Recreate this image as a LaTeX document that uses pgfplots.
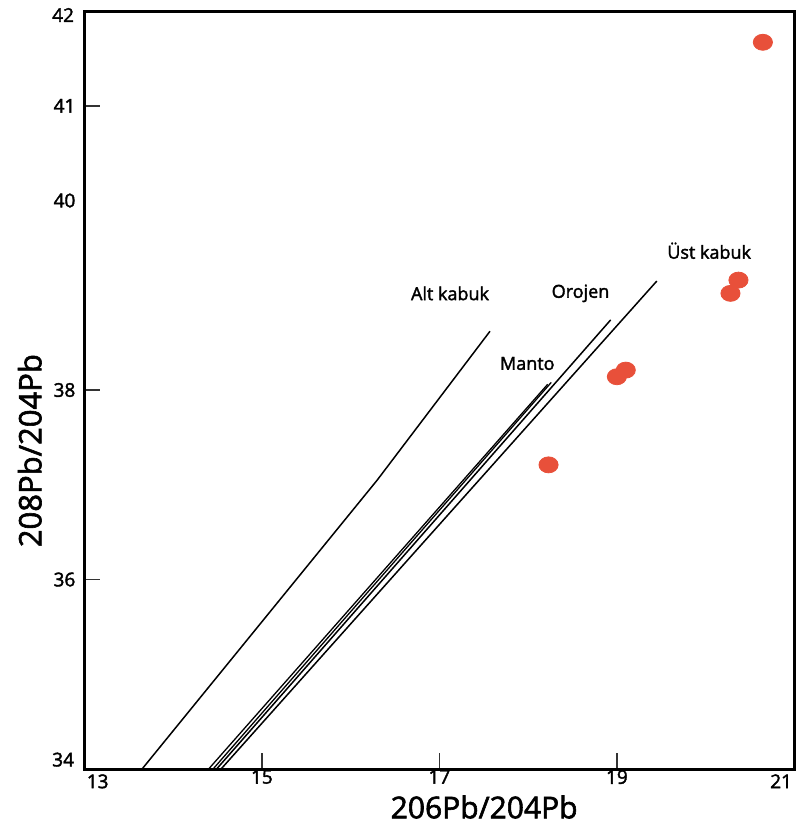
\documentclass[border=0pt]{standalone}
\usepackage{fontspec}
\setmainfont{Open Sans}[FakeBold=2]
\usepackage{pgfplots}
\pgfplotsset{compat=1.18}

\definecolor{ptred}{HTML}{E8503A}

\begin{document}
\begin{tikzpicture}
\begin{axis}[
    scale only axis,
    width=355pt, height=379pt,
    xmin=13, xmax=21, ymin=34, ymax=42,
    axis line style={line width=1.5pt},
    tick align=inside,
    major tick length=8pt,
    tick style={line width=0.8pt, black!80},
    xtick={15,17,19}, ytick={36,38,41},
    extra y ticks={40}, extra tick style={major tick length=0pt},
    xticklabel style={font=\fontsize{9.5}{10}\selectfont, yshift=3pt},
    yticklabel style={font=\fontsize{9.5}{10}\selectfont, xshift=-1pt},
    /pgf/number format/assume math mode=true,
    xtick pos=bottom, ytick pos=left,
    xlabel={206Pb/204Pb}, ylabel={208Pb/204Pb},
    xlabel style={font=\fontsize{15}{18}\selectfont,
        at={(axis description cs:0.563,0)}, anchor=center, yshift=-19pt},
    ylabel style={font=\fontsize{15.5}{18}\selectfont,
        at={(axis description cs:-0.077,0.42)}, anchor=center},
    clip=false,
]
% Alt kabuk
\addplot[black, line width=0.75pt] coordinates {(13.65,34) (16.30,37.05) (17.57,38.62)};
% Manto (double line)
\addplot[black, line width=0.65pt] coordinates {(14.40,34) (18.22,38.06)};
\addplot[black, line width=0.65pt] coordinates {(14.45,34) (18.26,38.08)};
% Orojen
\addplot[black, line width=0.75pt] coordinates {(14.49,34) (18.93,38.74)};
% Ust kabuk
\addplot[black, line width=0.75pt] coordinates {(14.54,34) (19.45,39.15)};
% samples
\addplot[only marks, mark=*, mark size=4pt, color=ptred,
    mark options={xscale=1.2, draw=none, fill=ptred}] coordinates {
    (20.645,41.67) (20.37,39.16) (20.28,39.02)
    (19.10,38.21) (19.00,38.14) (18.23,37.21)
};
\node[font=\fontsize{9}{10}\selectfont] at (axis cs:17.12,39.02) {Alt kabuk};
\node[font=\fontsize{9}{10}\selectfont] at (axis cs:18.59,39.02) {Orojen};
\node[font=\fontsize{9}{10}\selectfont] at (axis cs:17.99,38.28) {Manto};
\node[font=\fontsize{9}{10}\selectfont] at (axis cs:20.04,39.47) {Üst kabuk};
% end tick labels, set inward as in the original
\node[font=\fontsize{9.5}{10}\selectfont, anchor=north west, inner sep=0pt]
    at ([xshift=1pt,yshift=-2.5pt]rel axis cs:0,0) {13};
\node[font=\fontsize{9.5}{10}\selectfont, anchor=north east, inner sep=0pt]
    at ([xshift=-1pt,yshift=-2.5pt]rel axis cs:1,0) {21};
\node[font=\fontsize{9.5}{10}\selectfont, anchor=south east, inner sep=0pt]
    at ([xshift=-5pt,yshift=1pt]rel axis cs:0,0) {34};
\node[font=\fontsize{9.5}{10}\selectfont, anchor=east, inner sep=0pt]
    at ([xshift=-5pt,yshift=-2pt]rel axis cs:0,1) {42};
\end{axis}
\pgfresetboundingbox
\path (-42.2pt,-29pt) rectangle (356.8pt,384.5pt);
\end{tikzpicture}
\end{document}
